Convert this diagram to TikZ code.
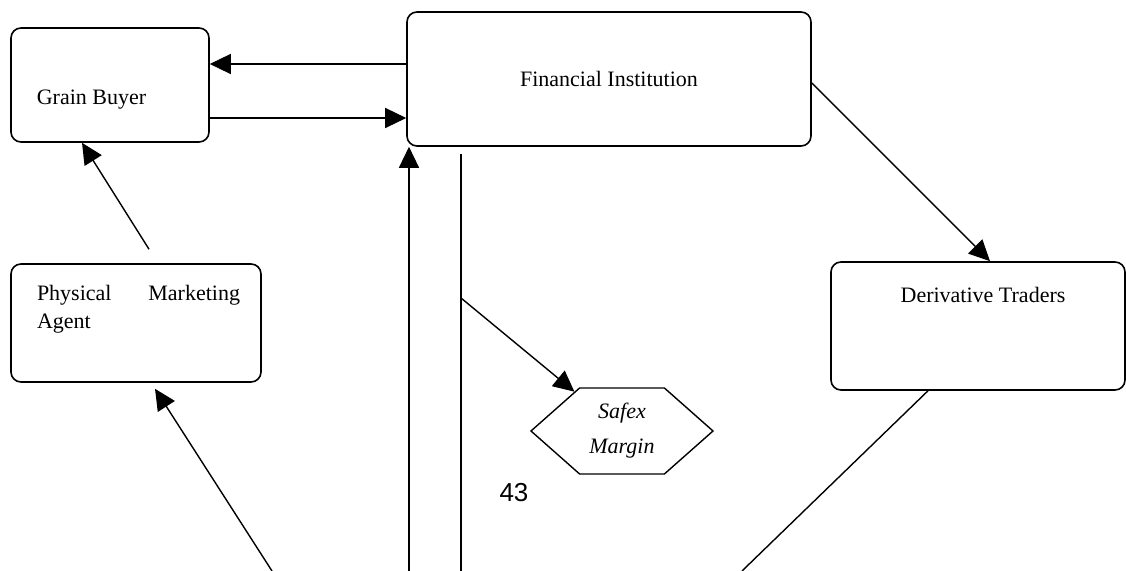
\documentclass[tikz,border=0pt]{standalone}
\usepackage{fontspec}
\setmainfont{Liberation Serif}
\newfontfamily\pagefont{Liberation Sans}
\usetikzlibrary{shapes.symbols,arrows.meta,calc}
\tikzset{
  box/.style={
    rectangle, rounded corners=5pt, draw=black, line width=0.8pt,
    inner sep=0pt, font=\fontsize{11}{14}\selectfont, align=center
  },
  boxtext/.style={font=\fontsize{11}{14}\selectfont, align=left, inner sep=0pt},
  hexa/.style={
    signal, signal to=west and east, signal pointer angle=83,
    draw=black, line width=0.7pt, inner sep=0pt,
    minimum width=91pt, minimum height=43pt,
    font=\fontsize{11}{14}\selectfont\itshape, align=center
  }
}

\begin{document}
\begin{tikzpicture}[x=0.5pt, y=-0.5pt,
    arr/.style={-{Triangle[length=10.5pt, width=10pt]}, line width=0.7pt},
    line/.style={line width=0.7pt}
]
  \useasboundingbox (0,0) rectangle (1126,571);

  % Boxes
  \node[box, minimum width=99pt, minimum height=57pt,
        label={[boxtext, xshift=-9.25pt, yshift=-7.5pt]center:Grain Buyer}]
        (buyer) at (110,85) {};
  \node[box, minimum width=202pt, minimum height=67pt] (fin) at (609,79)
        {Financial Institution};
  \node[box, minimum width=125pt, minimum height=59pt,
        label={[boxtext, text width=101.5pt, xshift=1.25pt, yshift=7pt]center:Physical\hfill Marketing\\Agent}]
        (agent) at (136,323) {};
  \node[box, minimum width=147pt, minimum height=64pt,
        label={[boxtext, xshift=2.5pt, yshift=15.5pt]center:Derivative Traders}]
        (traders) at (978,326) {};
  \node[hexa] (safex) at (622,431) {Safex\\[3.5pt]Margin};

  % Page number
  \node[font=\pagefont\fontsize{13}{15}\selectfont] (page) at (514,493) {43};

  % Free ends at the lower edge
  \coordinate (upfin)  at (409,571);
  \coordinate (downfin) at (461,571);
  \coordinate (toagent) at (272,571);
  \coordinate (fromtr) at (742,571);
  \coordinate (tap)    at (461,298);

  % Arrows
  \draw[arr] ([yshift=7.5pt]fin.west) -- ([yshift=7.5pt]fin.west -| buyer.east);
  \draw[arr] ([yshift=-16.5pt]buyer.east) -- ([yshift=-16.5pt]buyer.east -| fin.west);
  \draw[arr] (upfin) -- (upfin |- fin.south);
  \draw[line] (downfin) -- ([yshift=-3.5pt]downfin |- fin.south);
  \draw[arr] (tap) -- (safex);
  \draw[arr] ([xshift=6.5pt, yshift=7pt]agent.north) -- ([xshift=-14pt]buyer.south);
  \draw[arr] (toagent) -- ([xshift=9.5pt, yshift=-3pt]agent.south);
  \draw[arr] ([yshift=-2pt]fin.east) -- ([xshift=6pt]traders.north);
  \draw[line] ([xshift=-25pt]traders.south) -- (fromtr);
\end{tikzpicture}
\end{document}
